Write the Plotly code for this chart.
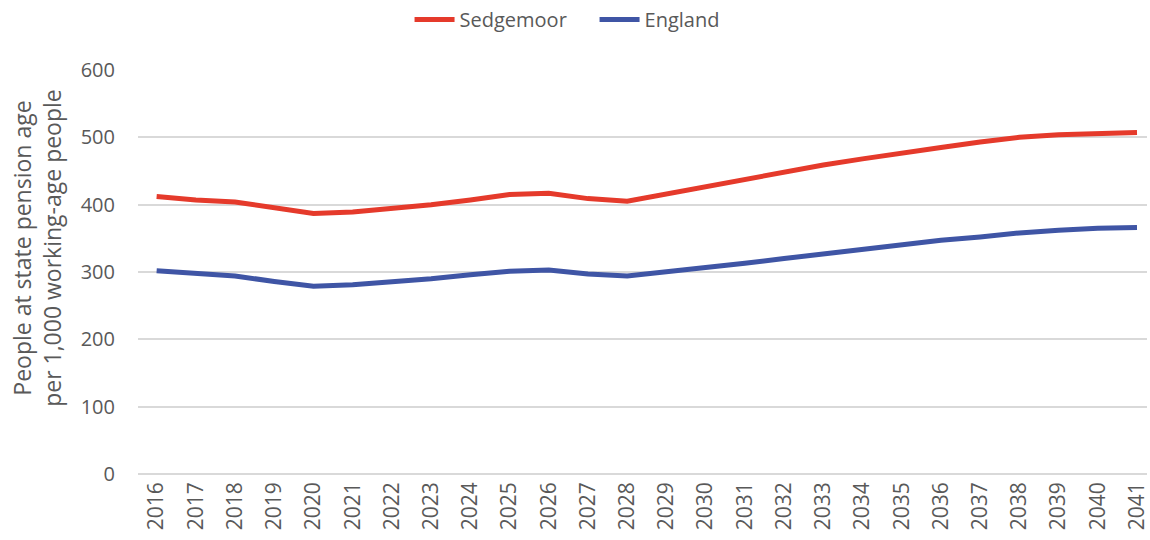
import plotly.graph_objects as go

# Projected old-age dependency ratio, 2016-2041
years = [str(y) for y in range(2016, 2042)]

sedgemoor = [412, 407, 404, 395, 387, 389, 394, 400, 407, 415, 417, 409, 405,
             416, 426, 437, 448, 459, 468, 477, 485, 493, 500, 504, 506, 507]

england = [302, 298, 294, 286, 279, 281, 285, 290, 296, 301, 303, 297, 294,
           300, 306, 313, 320, 327, 334, 341, 347, 352, 358, 362, 365, 366]

y_ticks = [0, 100, 200, 300, 400, 500, 600]

FONT = "Open Sans"
TEXT_GREY = "#595959"
GRID_GREY = "#D9D9D9"

fig = go.Figure()
fig.add_trace(go.Scatter(
    x=years, y=sedgemoor, name="Sedgemoor", mode="lines",
    line=dict(color="#E53A2B", width=5),
))
fig.add_trace(go.Scatter(
    x=years, y=england, name="England", mode="lines",
    line=dict(color="#3F55A5", width=5),
))

fig.update_layout(
    width=1150, height=540,
    margin=dict(l=138, r=0, t=70, b=66),
    paper_bgcolor="white", plot_bgcolor="white",
    font=dict(family=FONT, color=TEXT_GREY, size=20),
    showlegend=True,
    legend=dict(
        orientation="h", xref="container", yref="container",
        x=0.517, xanchor="center", y=1.0, yanchor="top",
        font=dict(size=20, color=TEXT_GREY), itemwidth=40,
        entrywidth=130, tracegroupgap=0,
    ),
)

fig.update_xaxes(
    type="category", range=[-0.475, 25.255],
    tickangle=-90, tickfont=dict(size=21, color=TEXT_GREY),
    showgrid=False, showline=False, zeroline=False,
    ticks="", ticklabelstandoff=3,
)
fig.update_yaxes(
    range=[0, 600], tickvals=y_ticks,
    tickfont=dict(size=20, color=TEXT_GREY),
    showgrid=True, gridcolor=GRID_GREY, gridwidth=1.5,
    zeroline=True, zerolinecolor=GRID_GREY, zerolinewidth=1.5,
    showline=False, ticks="", ticklabelstandoff=22,
)

# Two-line y-axis title, placed slightly above the plot's vertical centre
fig.add_annotation(
    text="People at state pension age<br>per 1,000 working-age people",
    xref="paper", yref="paper", x=-0.1, y=0.56,
    xanchor="center", yanchor="middle", textangle=-90,
    showarrow=False, font=dict(size=23, color=TEXT_GREY, family=FONT),
)

fig.write_html("out.html")
